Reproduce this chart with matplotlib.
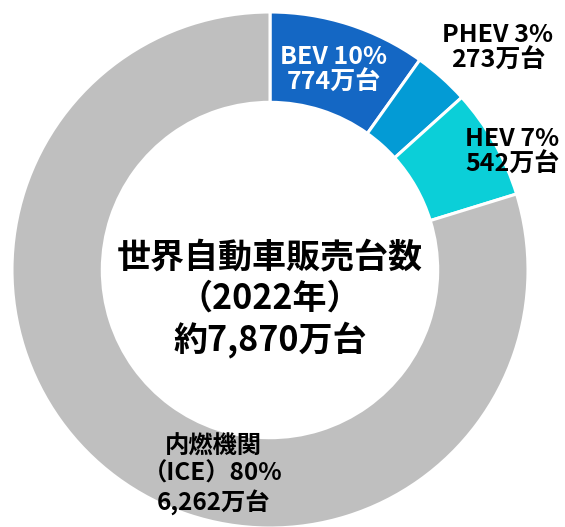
import matplotlib.pyplot as plt

plt.rcParams['font.family'] = ['Noto Sans CJK JP', 'DejaVu Sans']

# data (万台)
categories = ["BEV", "PHEV", "HEV", "内燃機関（ICE）"]
units = [774, 273, 542, 6262]
shares = [10, 3, 7, 80]
colors = ["#1467C4", "#039BD5", "#0BCFD8", "#BFBFBF"]

W, H = 565, 527
CX, CY, R = 270, H - 270, 258
RING = 0.35


def py(y):
    # convert top-down pixel row to data y
    return H - y


fig = plt.figure(figsize=(W / 100, H / 100), dpi=100)
ax = fig.add_axes([0, 0, 1, 1])
ax.pie(units, colors=colors, startangle=90, counterclock=False,
       center=(CX, CY), radius=R,
       wedgeprops=dict(width=R * RING, edgecolor="white", linewidth=2.2))
ax.set_xlim(0, W)
ax.set_ylim(0, H)
ax.set_aspect("equal")
ax.axis("off")

fs = 18
ax.text(334, py(70), f"BEV {shares[0]}%\n{units[0]}万台", ha="center", va="center",
        color="white", fontsize=fs, fontweight="bold", linespacing=1.1)
ax.text(498, py(48), f"PHEV {shares[1]}%\n{units[1]}万台", ha="center", va="center",
        color="black", fontsize=fs, fontweight="bold", linespacing=1.1)
ax.text(512, py(152), f"HEV {shares[2]}%\n{units[2]}万台", ha="center", va="center",
        color="black", fontsize=fs, fontweight="bold", linespacing=1.1)
ax.text(213, py(475), f"内燃機関\n（ICE）{shares[3]}%\n{units[3]:,}万台", ha="center",
        va="center", color="black", fontsize=17.5, fontweight="bold", linespacing=1.15)

total = 7870
ax.text(CX, py(299), f"世界自動車販売台数\n（2022年）\n約{total:,}万台", ha="center",
        va="center", color="black", fontsize=24.5, fontweight="bold", linespacing=1.2)

fig.savefig("out.png", dpi=100)
plt.close(fig)
